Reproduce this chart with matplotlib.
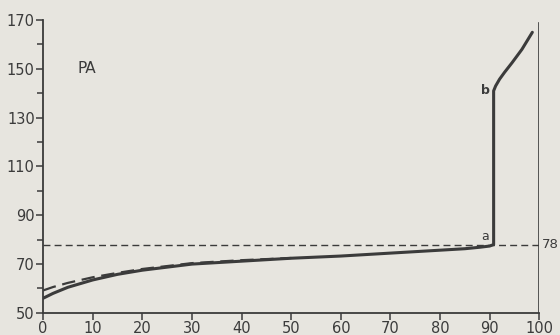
import matplotlib.pyplot as plt
import numpy as np

# solid curve (PA)
x_solid = [0, 2, 5, 10, 15, 20, 30, 40, 50, 60, 70, 80, 85, 88, 90, 90.8, 90.8, 91.2, 92, 93, 94.5, 96.5, 98.6]
y_solid = [56, 58, 60.5, 63.5, 65.8, 67.5, 70, 71.2, 72.4, 73.3, 74.5, 75.7, 76.3, 76.9, 77.4, 78, 141, 143, 145.8, 148.6, 152.5, 158, 165]
# dashed curve
x_dash = [0, 2, 5, 10, 15, 20, 30, 40, 50]
y_dash = [59.2, 60.6, 62.3, 64.6, 66.4, 68, 70.4, 71.6, 72.5]

ref_level = 78
yticks = [50, 70, 90, 110, 130, 150, 170]
yminor = [60, 80, 100, 120, 140, 160]
xticks = [0, 10, 20, 30, 40, 50, 60, 70, 80, 90, 100]
xlabels = ['0', '10', '20', '30', '40', '50', '60', '70', '80', '90', '100']

bg = '#e7e5df'
ink = '#3b3b3b'

fig = plt.figure(figsize=(5.6, 3.35), dpi=100, facecolor=bg)
ax = fig.add_axes([0.077, 0.066, 0.886, 0.874], facecolor=bg)

ax.plot(x_solid, y_solid, color=ink, lw=2.2, solid_capstyle='round', solid_joinstyle='round')
ax.plot(x_dash, y_dash, color=ink, lw=1.6, dashes=(6, 3))
ax.plot([0, 100], [ref_level, ref_level], color=ink, lw=1.0, dashes=(5, 3))
ax.plot([100, 100], [50, 169], color=ink, lw=1.2)

ax.text(7, 150, 'PA', fontsize=11, color=ink, va='center')
ax.text(88.3, 141, 'b', fontsize=9, color=ink, va='center', fontweight='bold')
ax.text(88.3, 81.5, 'a', fontsize=9, color=ink, va='center')
ax.text(100.6, ref_level, '78', fontsize=9.5, color=ink, va='center', clip_on=False)

ax.set_xlim(0, 100)
ax.set_ylim(50, 170)
ax.set_yticks(yticks)
ax.set_yticks(yminor, minor=True)
ax.set_xticks(xticks)
ax.set_xticklabels(xlabels)

for s in ['top', 'right']:
    ax.spines[s].set_visible(False)
for s in ['left', 'bottom']:
    ax.spines[s].set_color(ink)
    ax.spines[s].set_linewidth(1.3)

ax.tick_params(axis='both', which='major', length=5, width=1.1, colors=ink, labelsize=10.5, pad=1)
ax.tick_params(axis='y', which='minor', length=4, width=1.1, colors=ink)

fig.savefig('out.png', dpi=100, facecolor=bg)
